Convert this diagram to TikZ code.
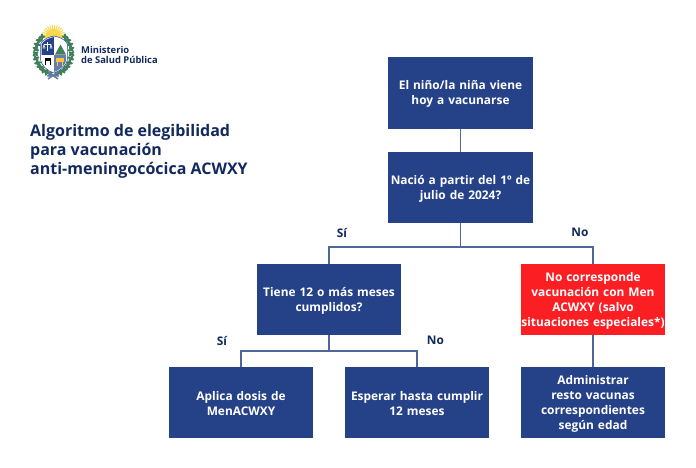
\documentclass[tikz,border=0pt]{standalone}
\usepackage{fontspec}
\usetikzlibrary{calc}
\setmainfont{Open Sans}
\definecolor{boxblue}{HTML}{254289}
\definecolor{alertred}{HTML}{FB1F24}
\definecolor{navy}{HTML}{12295E}
\definecolor{linkblue}{HTML}{4F6698}
\definecolor{sun}{HTML}{F7D84E}
\definecolor{leaf}{HTML}{3F7F5A}
\tikzset{
  x=1pt,y=-1pt,
  flowbox/.style={rectangle,fill=boxblue,draw=none,minimum width=144.5pt,minimum height=71.5pt,inner sep=0pt,
    text width=144.5pt,align=center,text=white,font=\bfseries\fontsize{11.9}{14.8}\selectfont,
    execute at begin node={\rule{0pt}{11.5pt}}},
  alertbox/.style={flowbox,fill=alertred},
  link/.style={draw=linkblue,line width=1.5pt},
  tag/.style={text=navy,font=\bfseries\fontsize{11.9}{14}\selectfont,inner sep=0pt},
  title/.style={text=navy,font=\bfseries\fontsize{16}{19}\selectfont,align=left,inner sep=0pt,anchor=north west},
  brand/.style={text=navy,font=\bfseries\fontsize{9.4}{10.2}\selectfont,align=left,inner sep=0pt,anchor=west},
}
\begin{document}
\begin{tikzpicture}
\useasboundingbox (0,0) rectangle (696,467);
\fill[white] (0,0) rectangle (696,467);

% Boxes
\node[flowbox] (start) at (460.5,93) {El niño/la niña viene\\hoy a vacunarse};
\node[flowbox] (born) at (460.5,187.5) {Nació a partir del 1º de\\julio de 2024?};
\node[flowbox] (age) at (329,299.5) {Tiene 12 o más meses\\cumplidos?};
\node[alertbox] (nocorr) at (593,299.5) {No corresponde\\vacunación con Men\\ACWXY (salvo\\situaciones especiales*)};
\node[flowbox] (apply) at (241,402.5) {Aplica dosis de\\MenACWXY};
\node[flowbox] (wait) at (417,402.5) {Esperar hasta cumplir\\12 meses};
\node[flowbox] (other) at (593,402.5) {Administrar\\resto vacunas\\correspondientes\\según edad};

% Connectors
\draw[link] (start.south) -- (born.north);
\coordinate (j1) at (460.5,247);
\coordinate (j2) at (329,351);
\draw[link] (born.south) -- (j1);
\draw[link] (age.north) |- (j1) -| (nocorr.north);
\draw[link] (age.south) -- (j2);
\draw[link] (apply.north) |- (j2) -| (wait.north);
\draw[link] (nocorr.south) -- (other.north);

% Labels
\node[tag] (si1) at (342,232.5) {Sí};
\node[tag] (no1) at (580,232.5) {No};
\node[tag] (si2) at (222,340.5) {Sí};
\node[tag] (no2) at (435.5,340.5) {No};

% Title and brand
\node[title] (ttl) at (30,124) {Algoritmo de elegibilidad\\para vacunación\\anti-meningocócica ACWXY};
\node[brand] (min) at (81,55) {Ministerio\\de Salud Pública};

% Coat of arms
\foreach \a in {-90,-78,...,90}
  \draw[sun,line width=1pt] (53.5,37) -- ++(\a-90:12);
\fill[sun] (53.5,37) circle (8);
% laurels
\foreach \a in {100,113,...,240}{
  \pgfmathsetmacro{\px}{53.5+18*cos(\a)}
  \pgfmathsetmacro{\py}{53+21*sin(\a)}
  \pgfmathsetmacro{\qx}{53.5-18*cos(\a)}
  \fill[leaf,rotate around={\a+40:(\px,\py)}] (\px,\py) ellipse (3.6 and 1.4);
  \fill[leaf,rotate around={\a-40:(\px,\py)}] (\px,\py) ellipse (3.6 and 1.4);
  \fill[leaf,rotate around={-\a+40:(\qx,\py)}] (\qx,\py) ellipse (3.6 and 1.4);
  \fill[leaf,rotate around={-\a-40:(\qx,\py)}] (\qx,\py) ellipse (3.6 and 1.4);
}
% shield
\fill[white] (40.5,44) .. controls (43,39) and (49,37) .. (54,36) .. controls (59,37) and (65,39) .. (67.5,44) -- (67.5,58) .. controls (67.5,66) and (60,71) .. (54,73) .. controls (48,71) and (40.5,66) .. (40.5,58) -- cycle;
\begin{scope}
\clip (41.5,44.5) .. controls (44,40) and (49,38) .. (54,37) .. controls (59,38) and (64,40) .. (66.5,44.5) -- (66.5,58) .. controls (66.5,65) and (60,70) .. (54,72) .. controls (48,70) and (41.5,65) .. (41.5,58) -- cycle;
\fill[boxblue] (41,36) rectangle (54,54.5);
\fill[white] (54,36) rectangle (67,54.5);
\fill[white] (41,54.5) rectangle (54,73);
\fill[boxblue!70] (54,54.5) rectangle (67,73);
\fill[leaf] (55,54.5) -- (60.5,44.5) -- (66,54.5) -- cycle;
\fill[black] (44.5,57.5) rectangle (51,61);
\fill[black] (45,61) rectangle (46,65);
\fill[black] (49.5,61) rectangle (50.5,65);
\fill[sun!80!orange] (56,58) rectangle (64,62);
\fill[sun!80!orange] (57,62) rectangle (58,65.5);
\fill[sun!80!orange] (62,62) rectangle (63,65.5);
\draw[white,line width=.5pt] (47.5,42) -- (47.5,51) (44,44.5) -- (51,44.5);
\draw[white,line width=.5pt] (44,44.5) -- (43,48) -- (45,48) -- cycle (51,44.5) -- (50,48) -- (52,48) -- cycle;
\end{scope}
\draw[boxblue,line width=.5pt] (40.5,44) .. controls (43,39) and (49,37) .. (54,36) .. controls (59,37) and (65,39) .. (67.5,44) -- (67.5,58) .. controls (67.5,66) and (60,71) .. (54,73) .. controls (48,71) and (40.5,66) .. (40.5,58) -- cycle;
% ribbon
\draw[boxblue!70,line width=1.5pt] (48,72) -- (58,79) (58,72) -- (48,79) (47,75.5) -- (59,75.5);
\end{tikzpicture}
\end{document}
